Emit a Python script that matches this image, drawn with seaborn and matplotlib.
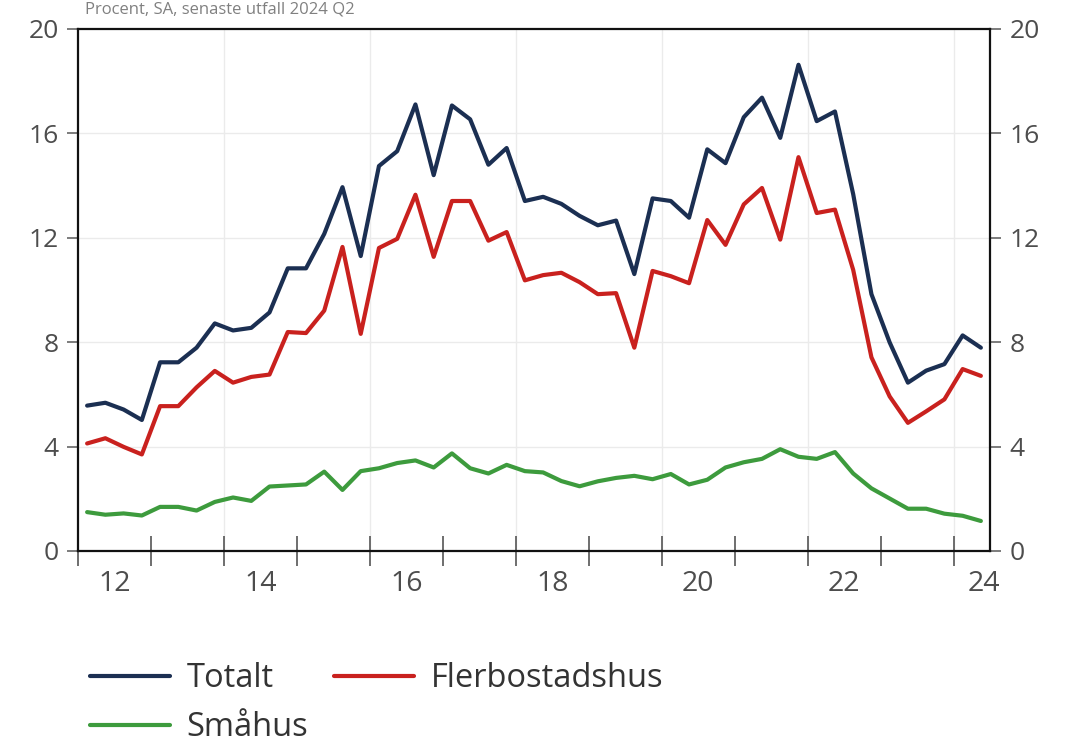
import numpy as np
import pandas as pd
import matplotlib
matplotlib.use("Agg")
import matplotlib.pyplot as plt
import seaborn as sns
from matplotlib.lines import Line2D

# ---- data (quarterly, 2012 Q1 - 2024 Q2) ----
start_year = 2012
n_quarters = 50
totalt = [5.57, 5.68, 5.42, 5.02, 7.23, 7.23, 7.79, 8.72, 8.45, 8.55,
          9.14, 10.83, 10.83, 12.15, 13.94, 11.30, 14.75, 15.32, 17.11, 14.40,
          17.07, 16.54, 14.80, 15.44, 13.41, 13.57, 13.30, 12.84, 12.48, 12.66,
          10.61, 13.51, 13.41, 12.77, 15.39, 14.86, 16.62, 17.37, 15.83, 18.63,
          16.47, 16.84, 13.67, 9.84, 7.99, 6.45, 6.91, 7.16, 8.26, 7.79]
flerbostadshus = [4.12, 4.32, 3.99, 3.70, 5.55, 5.55, 6.27, 6.90, 6.45, 6.67,
                  6.76, 8.39, 8.35, 9.21, 11.65, 8.32, 11.61, 11.96, 13.65, 11.27,
                  13.41, 13.41, 11.89, 12.22, 10.37, 10.57, 10.66, 10.30, 9.84, 9.88,
                  7.79, 10.73, 10.53, 10.26, 12.68, 11.73, 13.28, 13.91, 11.93, 15.09,
                  12.95, 13.08, 10.77, 7.42, 5.92, 4.91, 5.35, 5.81, 6.97, 6.71]
smahus = [1.49, 1.39, 1.44, 1.36, 1.69, 1.69, 1.55, 1.88, 2.05, 1.92,
          2.47, 2.51, 2.55, 3.04, 2.34, 3.06, 3.17, 3.37, 3.47, 3.20,
          3.74, 3.17, 2.97, 3.30, 3.06, 3.01, 2.68, 2.48, 2.67, 2.80,
          2.88, 2.75, 2.95, 2.55, 2.73, 3.20, 3.40, 3.53, 3.90, 3.61,
          3.53, 3.79, 2.97, 2.40, 2.01, 1.62, 1.62, 1.43, 1.35, 1.15]
series_names = ["Totalt", "Flerbostadshus", "Småhus"]
colors = ["#1b2f52", "#c9211e", "#3d9b3d"]
x_labels = ["12", "14", "16", "18", "20", "22", "24"]
y_ticks = [0, 4, 8, 12, 16, 20]
subtitle = "Procent, SA, senaste utfall 2024 Q2"

# ---- tidy frame ----
quarters = start_year + (np.arange(n_quarters) + 0.5) / 4.0
df = pd.DataFrame({"t": quarters, "Totalt": totalt,
                   "Flerbostadshus": flerbostadshus, "Småhus": smahus})
long = df.melt(id_vars="t", var_name="serie", value_name="v")

sns.set_style("white")
plt.rcParams["font.family"] = ["Open Sans", "DejaVu Sans"]

fig = plt.figure(figsize=(10.71, 7.48), dpi=100)
ax = fig.add_axes([78 / 1071, 1 - 551 / 748, (990 - 78) / 1071, (551 - 29) / 748])

# grid
for yv in y_ticks[1:-1]:
    ax.axhline(yv, color="#ebebeb", lw=1.0, zorder=0)
for xv in range(2014, 2025, 2):
    ax.axvline(xv, color="#ebebeb", lw=1.0, zorder=0)

sns.lineplot(data=long, x="t", y="v", hue="serie", hue_order=series_names,
             palette=colors, linewidth=3.0, ax=ax, legend=False)

ax.set_xlim(2012, 2024.5)
ax.set_ylim(0, 20)
ax.set_xlabel("")
ax.set_ylabel("")

for s in ax.spines.values():
    s.set_visible(True)
    s.set_color("#111111")
    s.set_linewidth(1.6)

tick_color = "#4d4d4d"
ax.set_yticks(y_ticks)
ax.tick_params(axis="y", which="major", direction="out", length=8, width=1.2,
               color="#666666", left=True, right=True, labelleft=True,
               labelright=True, labelsize=19, labelcolor=tick_color, pad=6)

ax.set_xticks(range(2012, 2025))
ax.set_xticklabels([])
label_pos = [min(int(l) + 2000.5, 2024.42) for l in x_labels]
ax.set_xticks(label_pos, minor=True)
ax.set_xticklabels(x_labels, minor=True)
ax.tick_params(axis="x", which="major", direction="inout", length=22, width=1.2,
               color="#555555", bottom=True)
ax.tick_params(axis="x", which="minor", length=0, labelsize=20.5,
               labelcolor=tick_color, pad=14)

# subtitle at very top (small, fully visible)
fig.text(85 / 1071, 1 - 2 / 748, subtitle, fontsize=12, color="#808080",
         ha="left", va="top")

# legend (row-wise order: Totalt, Flerbostadshus / Småhus)
handles = [Line2D([0], [0], color=c, lw=3.0) for c in colors]
order = [0, 2, 1]
fig.legend([handles[i] for i in order], [series_names[i] for i in order],
           loc="upper left", bbox_to_anchor=(90 / 1071, 1 - 662 / 748),
           ncol=2, frameon=False, fontsize=23.5, handlelength=2.45,
           handletextpad=0.5, columnspacing=0.8, labelspacing=0.5,
           borderpad=0, borderaxespad=0, labelcolor="#333333")

fig.savefig("out.png", dpi=100)
